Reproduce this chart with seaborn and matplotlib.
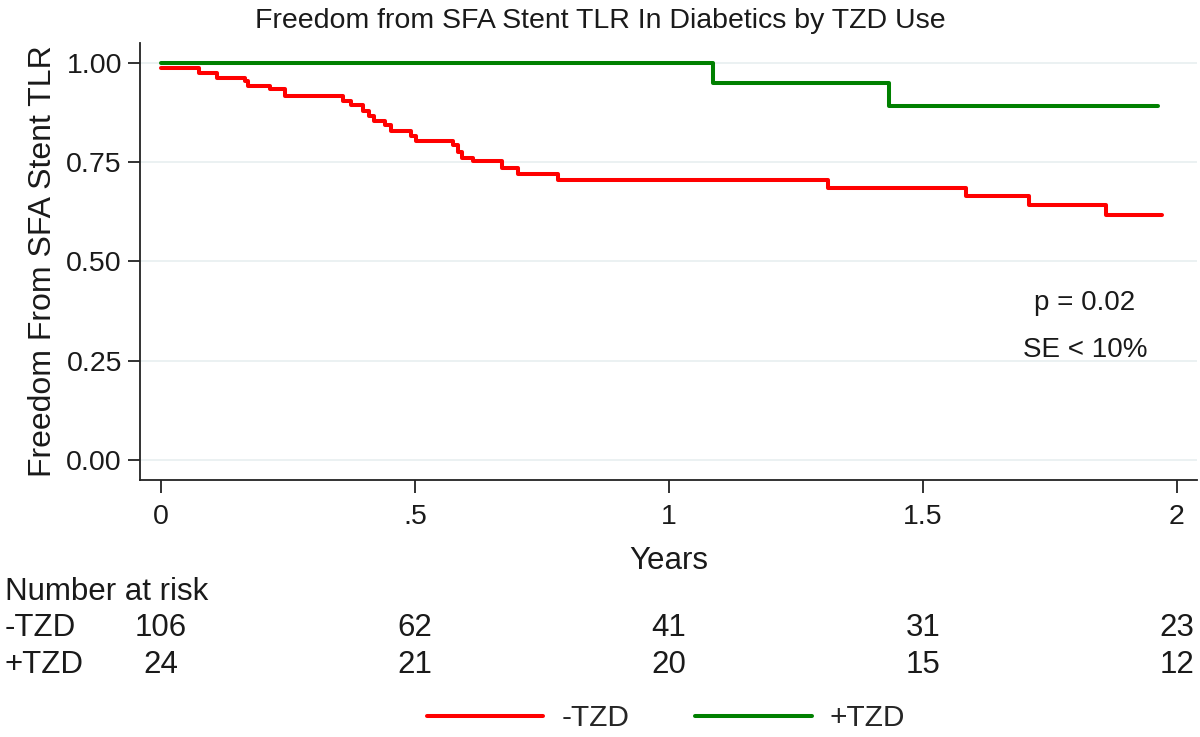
import numpy as np
import pandas as pd
import matplotlib
matplotlib.use('Agg')
import matplotlib.pyplot as plt
import matplotlib.transforms as mtransforms
from matplotlib.lines import Line2D
import seaborn as sns

# Kaplan-Meier step values
time_no_tzd = [0.0, 0.075, 0.110, 0.165, 0.171, 0.215, 0.244, 0.359, 0.375, 0.398,
               0.410, 0.420, 0.441, 0.454, 0.492, 0.502, 0.575, 0.585, 0.592, 0.615,
               0.671, 0.703, 0.782, 1.314, 1.586, 1.709, 1.861, 1.972]
surv_no_tzd = [0.987, 0.975, 0.962, 0.954, 0.941, 0.933, 0.916, 0.903, 0.895, 0.880,
               0.866, 0.853, 0.844, 0.828, 0.817, 0.802, 0.792, 0.776, 0.761, 0.752,
               0.735, 0.720, 0.704, 0.685, 0.664, 0.641, 0.616, 0.616]
time_tzd = [0.0, 1.087, 1.434, 1.964]
surv_tzd = [1.0, 0.948, 0.891, 0.891]

risk_times = [0, 0.5, 1, 1.5, 2]
risk_no_tzd = [106, 62, 41, 31, 23]
risk_tzd = [24, 21, 20, 15, 12]

groups = ['-TZD', '+TZD']
colors = {'-TZD': '#ff0000', '+TZD': '#008000'}

df = pd.concat([
    pd.DataFrame({'time': time_no_tzd, 'surv': surv_no_tzd, 'group': '-TZD'}),
    pd.DataFrame({'time': time_tzd, 'surv': surv_tzd, 'group': '+TZD'}),
], ignore_index=True)

sns.set_style('white')
plt.rcParams['font.family'] = ['Liberation Sans', 'DejaVu Sans']
txt = '#1a1a1a'

fig = plt.figure(figsize=(12, 7.37), dpi=100)
ax = fig.add_axes([0.1167, 0.3487, 0.8808, 0.593])

sns.lineplot(data=df, x='time', y='surv', hue='group', palette=colors,
             drawstyle='steps-post', estimator=None, sort=False,
             linewidth=2.9, legend=False, ax=ax)

ax.set_xlim(-0.041, 2.04)
ax.set_ylim(-0.05, 1.05)
ax.set_xticks(risk_times)
ax.set_xticklabels(['0', '.5', '1', '1.5', '2'])
ax.set_yticks([0, 0.25, 0.5, 0.75, 1.0])
ax.set_yticklabels(['0.00', '0.25', '0.50', '0.75', '1.00'])
ax.yaxis.grid(True, color='#e8eff0', linewidth=1.2)
ax.set_axisbelow(True)
for s in ['top', 'right']:
    ax.spines[s].set_visible(False)
for s in ['left', 'bottom']:
    ax.spines[s].set_color('#222222')
    ax.spines[s].set_linewidth(1.3)
ax.tick_params(axis='both', direction='out', length=9, width=1.3, bottom=True, left=True,
               color='#222222', labelsize=20.5, labelcolor=txt)
ax.tick_params(axis='x', pad=8)
ax.tick_params(axis='y', pad=4)
ax.set_xlabel('Years', fontsize=22.5, labelpad=12, color=txt)
ax.set_ylabel('Freedom From SFA Stent TLR', fontsize=23, labelpad=6, color=txt)

fig.text(0.5, 1 - 21 / 737, 'Freedom from SFA Stent TLR In Diabetics by TZD Use',
         ha='center', va='center', fontsize=20.5, color=txt)

ax.text(1.819, 0.396, 'p = 0.02', ha='center', va='center', fontsize=20, color=txt)
ax.text(1.819, 0.277, 'SE < 10%', ha='center', va='center', fontsize=20, color=txt)

# number at risk table
trans = mtransforms.blended_transform_factory(ax.transData, fig.transFigure)
fig.text(5 / 1200, 1 - 592 / 737, 'Number at risk', ha='left', va='center',
         fontsize=22.5, color=txt)
for label, counts, ypx in [('-TZD', risk_no_tzd, 628), ('+TZD', risk_tzd, 665)]:
    fig.text(5 / 1200, 1 - ypx / 737, label, ha='left', va='center',
             fontsize=22.5, color=txt)
    for t, n in zip(risk_times, counts):
        ax.text(t, 1 - ypx / 737, str(n), transform=trans, ha='center', va='center',
                fontsize=22.5, color=txt, clip_on=False)

handles = [Line2D([], [], color=colors[g], linewidth=2.9) for g in groups]
fig.legend(handles, groups, loc='center', bbox_to_anchor=(0.555, 1 - 718 / 737),
           ncol=2, frameon=False, fontsize=21.5, handlelength=3.9,
           columnspacing=2.2, handletextpad=0.6)

fig.savefig('out.png', dpi=100)
